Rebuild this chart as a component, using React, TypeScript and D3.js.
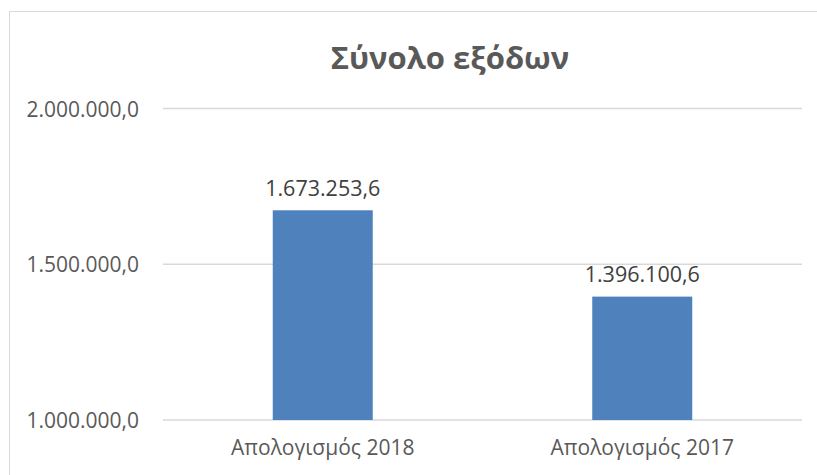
import React from "react";
import * as d3 from "d3";

const categories: string[] = ["Απολογισμός 2018", "Απολογισμός 2017"];
const values: number[] = [1673253.6, 1396100.6];
const yTicks: number[] = [1000000, 1500000, 2000000];
const title = "Σύνολο εξόδων";

const fmt = (v: number) => {
  const f = d3.formatLocale({ decimal: ",", thousands: ".", grouping: [3], currency: ["", "€"] });
  return f.format(",.1f")(v);
};

export default function App() {
  const W = 817;
  const H = 475;
  const x = d3
    .scaleBand<string>()
    .domain(categories)
    .range([163, 802])
    .paddingInner(0.687)
    .paddingOuter(0.3435);
  const y = d3.scaleLinear().domain([1000000, 2000000]).range([420, 108.5]);
  const font = "'Open Sans', sans-serif";
  return (
    <svg
      width={W}
      height={H}
      style={{ position: "absolute", left: 0, top: 0, background: "#fff" }}
      fontFamily={font}
    >
      <rect x={9.5} y={11.5} width={W + 20} height={H + 20} fill="#fff" stroke="#d9d9d9" strokeWidth={1} />
      <text x={450} y={57} textAnchor="middle" dominantBaseline="central" fontSize={31} fontWeight="bold" fill="#595959">
        {title}
      </text>
      {yTicks.map((t) => (
        <g key={t}>
          <line x1={163} x2={802} y1={y(t)} y2={y(t)} stroke="#d9d9d9" strokeWidth={1.3} />
          <text x={139} y={y(t)} textAnchor="end" dominantBaseline="central" fontSize={21} fill="#595959">
            {fmt(t)}
          </text>
        </g>
      ))}
      {categories.map((c, i) => (
        <g key={c}>
          <rect
            x={x(c)!}
            y={y(values[i])}
            width={x.bandwidth()}
            height={y(1000000) - y(values[i])}
            fill="#4f81bd"
          />
          <text
            x={x(c)! + x.bandwidth() / 2}
            y={y(values[i]) - 23}
            textAnchor="middle"
            dominantBaseline="central"
            fontSize={21.5}
            fill="#404040"
          >
            {fmt(values[i])}
          </text>
          <text
            x={x(c)! + x.bandwidth() / 2}
            y={447}
            textAnchor="middle"
            dominantBaseline="central"
            fontSize={21}
            fill="#595959"
          >
            {c}
          </text>
        </g>
      ))}
    </svg>
  );
}
